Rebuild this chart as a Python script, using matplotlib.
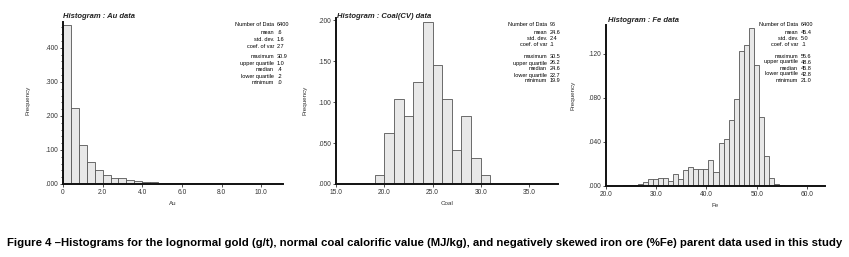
import matplotlib
matplotlib.use('Agg')
import matplotlib.pyplot as plt

W, H = 849, 257

# Au (g/t) histogram, bin width 0.4 starting at 0
au_left = [0.4 * i for i in range(28)]
au_freq = [0.466, 0.222, 0.115, 0.065, 0.042, 0.025, 0.018, 0.017, 0.013, 0.010,
           0.006, 0.005, 0.004, 0.004, 0.003, 0.003, 0.002, 0.002, 0.002, 0.002,
           0.001, 0.001, 0.001, 0.001, 0.001, 0.0008, 0.001, 0.001]

# Coal CV (MJ/kg), counts out of 96, bin width 1.0 from 19
coal_left = list(range(19, 31))
coal_count = [1, 6, 10, 8, 12, 19, 14, 10, 4, 8, 3, 1]
coal_n = 96

# Fe (%), bin width 1.0
fe_left = [21.4 + i for i in range(35)]
fe_freq = [0.0003, 0.0003, 0.0005, 0.0008, 0.001, 0.002, 0.004, 0.006, 0.006, 0.0075,
           0.0075, 0.0045, 0.011, 0.006, 0.0145, 0.017, 0.015, 0.015, 0.015, 0.024,
           0.0127, 0.039, 0.043, 0.060, 0.079, 0.122, 0.128, 0.143, 0.110, 0.063,
           0.027, 0.0073, 0.002, 0.0005, 0.0003]

stat_names = ['Number of Data', 'mean', 'std. dev.', 'coef. of var',
              'maximum', 'upper quartile', 'median', 'lower quartile', 'minimum']
au_stats = ['6400', '.6', '1.6', '2.7', '30.9', '1.0', '.4', '.2', '.0']
coal_stats = ['96', '24.6', '2.4', '.1', '30.5', '26.2', '24.6', '22.7', '19.9']
fe_stats = ['6400', '45.4', '5.0', '.1', '55.6', '48.6', '45.8', '42.8', '21.0']

caption = ('Figure 4 \u2013Histograms for the lognormal gold (g/t), normal coal calorific value (MJ/kg), '
           'and negatively skewed iron ore (%Fe) parent data used in this study')

narrow = ['Liberation Sans Narrow', 'Liberation Sans', 'DejaVu Sans']

fig = plt.figure(figsize=(W / 100, H / 100), dpi=100)


def make_axes(x0, x1, ybot, ytop):
    return fig.add_axes([x0 / W, 1 - ybot / H, (x1 - x0) / W, (ybot - ytop) / H])


def style(ax, xlim, ylim, xticks, xlabels, yticks, ylabels, title, xlab, tx, ty, ylx, yly):
    ax.set_xlim(*xlim)
    ax.set_ylim(*ylim)
    for s in ['top', 'right']:
        ax.spines[s].set_visible(False)
    for s in ['left', 'bottom']:
        ax.spines[s].set_linewidth(1.4)
        ax.spines[s].set_color('#111111')
    ax.set_xticks(xticks)
    ax.set_xticklabels(xlabels, family=narrow, fontsize=4.8, color='#333333')
    ax.set_yticks(yticks)
    ax.set_yticklabels(ylabels, family=narrow, fontsize=4.8, color='#333333')
    ax.tick_params(length=2, width=0.6, pad=1.5, colors='#333333')
    ax.set_xlabel(xlab, family=narrow, fontsize=4.5, color='#333333', labelpad=4)
    fig.text(tx / W, 1 - ty / H, title, family=narrow, fontsize=5.5,
             style='italic', weight='bold', va='center', ha='left', color='#222222')
    fig.text(ylx / W, 1 - yly / H, 'Frequency', family=narrow, fontsize=4.5,
             rotation=90, va='center', ha='center', color='#333333')


def stats(xr, ys, values):
    for name, val, y in zip(stat_names, values, ys):
        fig.text(xr / W, 1 - y / H, name, family=narrow, fontsize=4, ha='right', va='center')
        fig.text((xr + 3) / W, 1 - y / H, val, family=narrow, fontsize=4, ha='left', va='center')


bar_kw = dict(align='edge', color='#e8e8e8', edgecolor='#555555', linewidth=0.6)

# Au
ax1 = make_axes(63, 283, 184, 22)
ax1.bar(au_left, au_freq, width=0.4, **bar_kw)
style(ax1, (0, 11.1), (0, 0.476), [0, 2, 4, 6, 8, 10], ['0', '2.0', '4.0', '6.0', '8.0', '10.0'],
      [0, 0.1, 0.2, 0.3, 0.4], ['.000', '.100', '.200', '.300', '.400'],
      'Histogram : Au data', 'Au', 63, 16, 28, 100)
ax1.set_yticks([i * 0.02 for i in range(24)], minor=True)
ax1.tick_params(which='minor', length=1.2, width=0.5)
stats(274, [24, 33, 39.5, 46, 57, 63.5, 70, 76.5, 83], au_stats)

# Coal
ax2 = make_axes(336, 558, 184, 18)
ax2.bar(coal_left, [c / coal_n for c in coal_count], width=1.0, **bar_kw)
style(ax2, (15, 38), (0, 0.203), [15, 20, 25, 30, 35], ['15.0', '20.0', '25.0', '30.0', '35.0'],
      [0, 0.05, 0.1, 0.15, 0.2], ['.000', '.050', '.100', '.150', '.200'],
      'Histogram : Coal(CV) data', 'Coal', 337, 16, 305, 100)
stats(547, [24, 32.5, 38.5, 44.5, 57, 63, 69, 75, 81], coal_stats)

# Fe
ax3 = make_axes(606, 825, 186, 25)
ax3.bar(fe_left, fe_freq, width=1.0, **bar_kw)
style(ax3, (20, 63.6), (0, 0.146), [20, 30, 40, 50, 60], ['20.0', '30.0', '40.0', '50.0', '60.0'],
      [0, 0.04, 0.08, 0.12], ['.000', '.040', '.080', '.120'],
      'Histogram : Fe data', 'Fe', 608, 20, 573, 95)
stats(798, [25, 33, 39, 45, 56, 62, 68, 74, 80], fe_stats)

# caption, shrunk to fit the width of the figure
cap = fig.text(425 / W, 1 - 243 / H, caption, family=narrow, fontsize=8.5,
               weight='bold', ha='center', va='center')
renderer = fig.canvas.get_renderer()
cap_w = cap.get_window_extent(renderer).width
cap.set_fontsize(8.5 * 834 / cap_w)

fig.savefig('out.png', dpi=100)
